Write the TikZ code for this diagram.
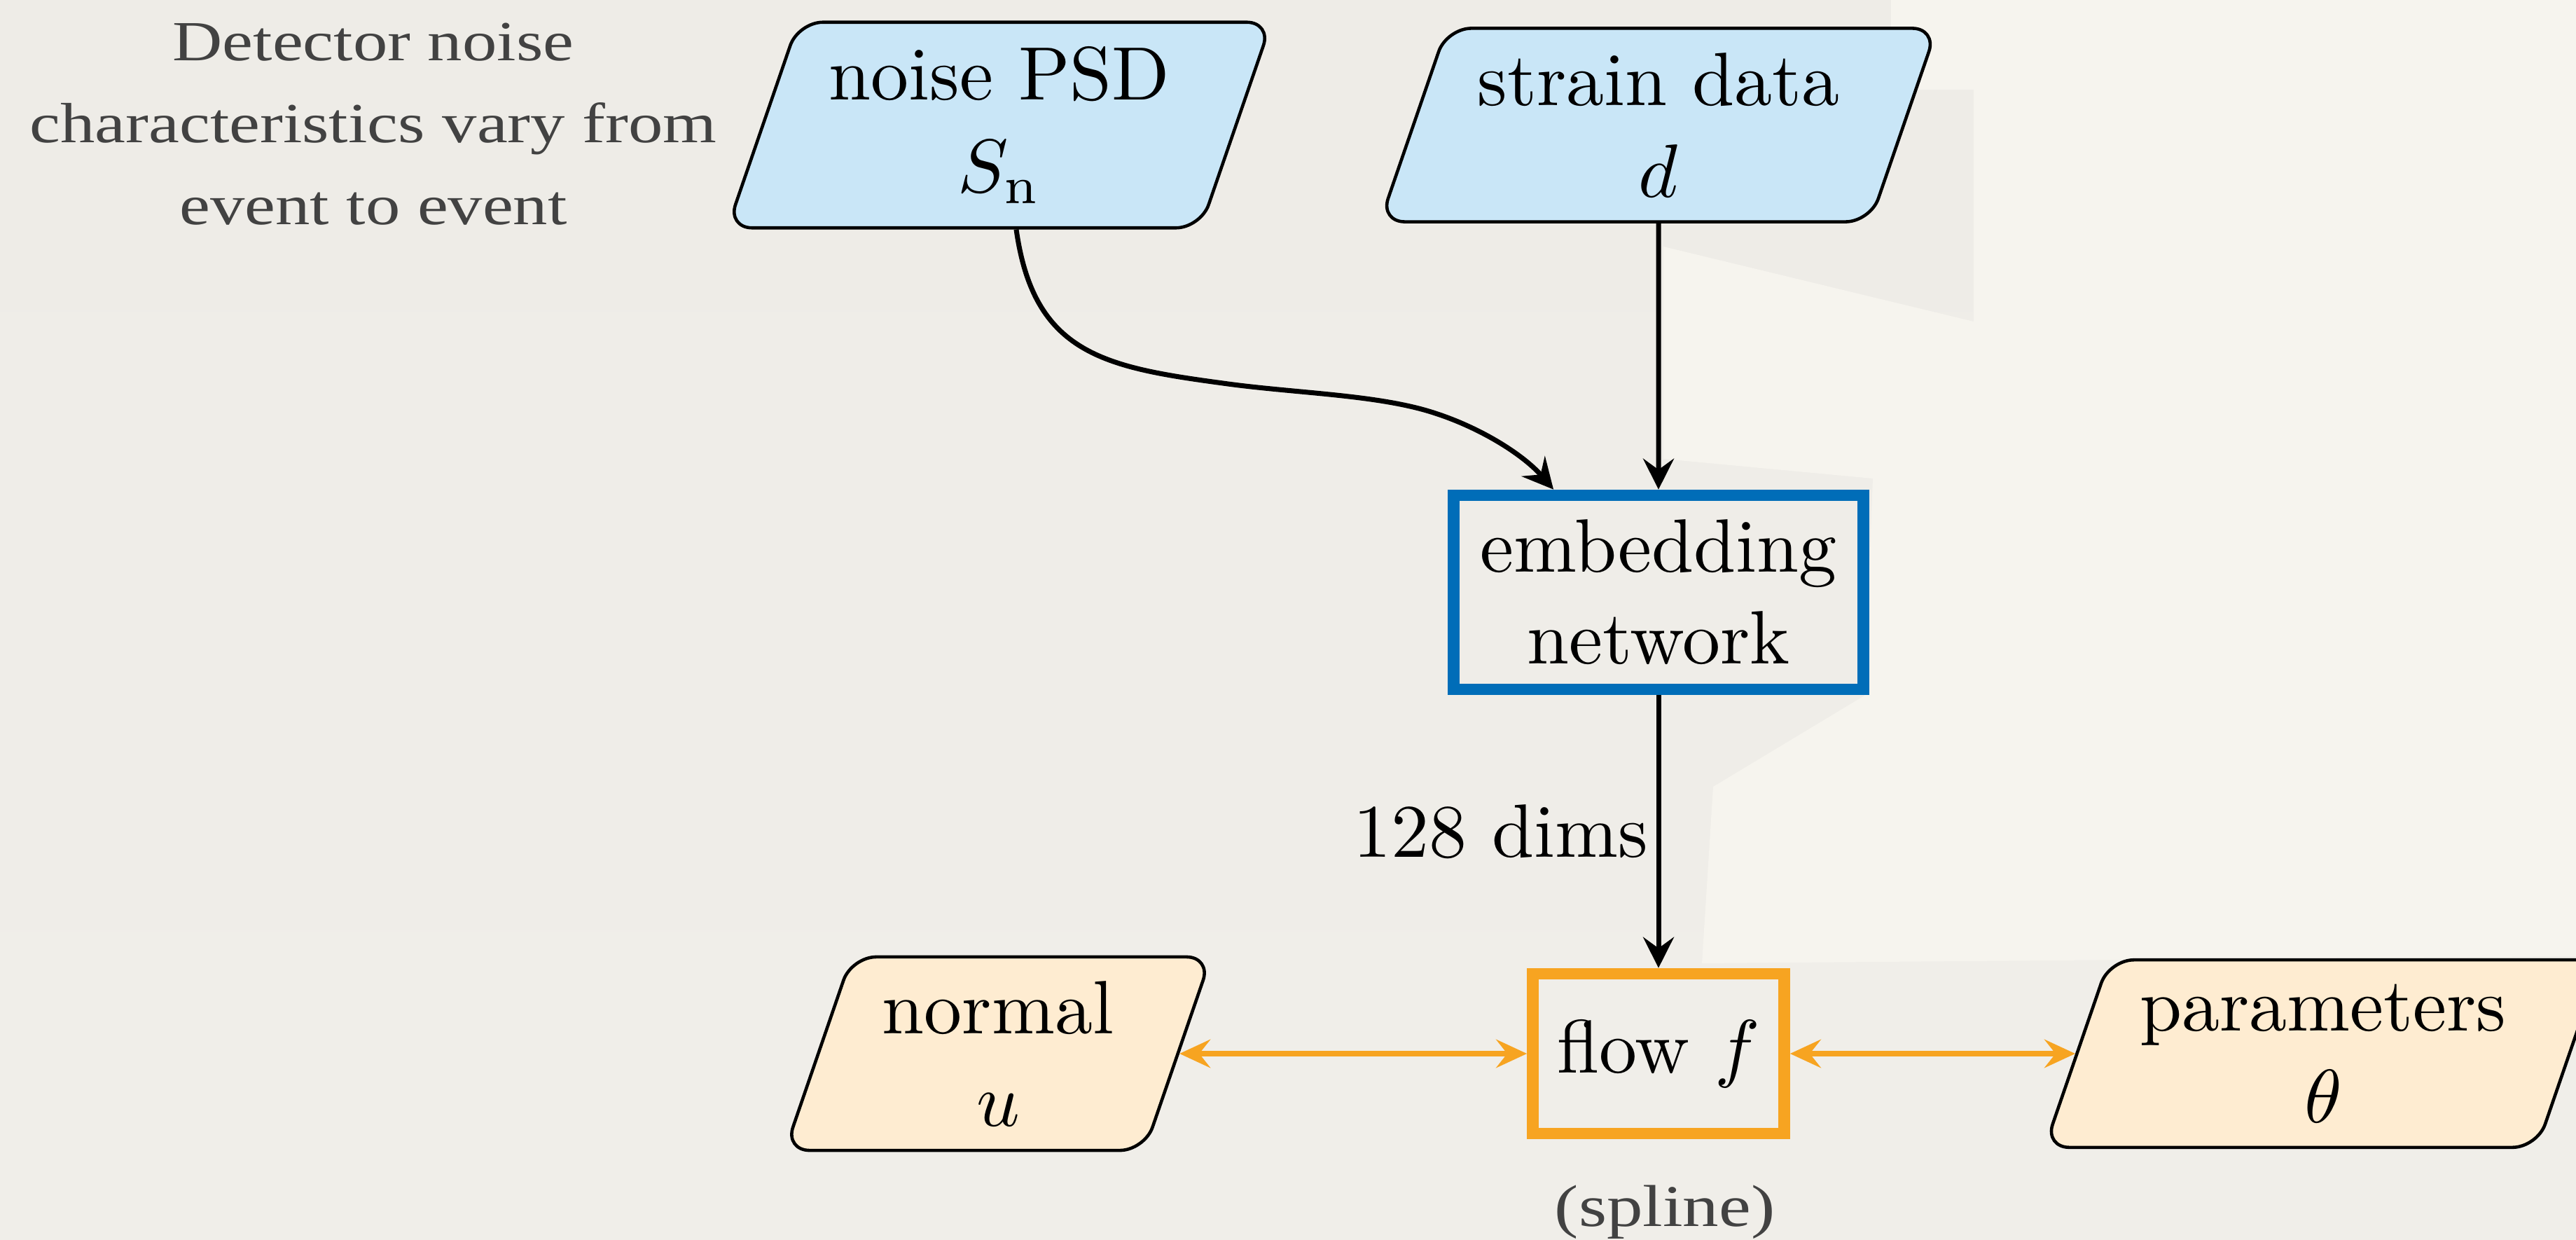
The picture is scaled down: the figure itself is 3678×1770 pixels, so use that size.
\RequirePackage{fix-cm}
\documentclass[tikz,border=0pt]{standalone}
\usepackage{fontspec}
\newfontfamily\capfont[FakeStretch=1.22]{Liberation Serif}
\usetikzlibrary{shapes.geometric,arrows.meta,calc}
\definecolor{bgtop}{HTML}{EEECE7}
\definecolor{bgmid}{HTML}{E8E6E1}
\definecolor{bgbot}{HTML}{F0EEE9}
\definecolor{bglight}{HTML}{F6F4EE}
\definecolor{inblue}{HTML}{C9E6F7}
\definecolor{inorange}{HTML}{FEECD1}
\definecolor{netblue}{HTML}{006DB8}
\definecolor{floworange}{HTML}{F7A421}
\definecolor{captiongray}{HTML}{424242}
\newcommand{\bigt}[1]{\scalebox{3.07}{\fontsize{10}{12}\selectfont #1}}
\begin{document}
\begin{tikzpicture}[x=0.01cm,y=-0.01cm,
  txt/.style={font=\fontsize{30.7}{37.3}\selectfont},
  databox/.style={txt, draw=black, line width=1.3pt, shape=trapezium,
    trapezium left angle=71, trapezium right angle=109, rounded corners=10pt,
    inner xsep=0.44cm, inner ysep=0.35cm, align=center},
  inbox/.style={databox, fill=inblue},
  outbox/.style={databox, fill=inorange},
  netbox/.style={txt, draw=#1, line width=4.7pt, inner sep=0pt, align=center},
  arr/.style={line width=2pt, -{Stealth[length=12.5pt,width=12.5pt,inset=4.5pt]}},
  biarr/.style={line width=2.2pt, draw=floworange,
    {Stealth[length=12.5pt,width=11.5pt,inset=4.5pt]}-{Stealth[length=12.5pt,width=11.5pt,inset=4.5pt]}},
  note/.style={text=captiongray, align=center, font=\capfont\fontsize{23}{33.3}\selectfont}
]
\useasboundingbox (0,0) rectangle (3678,1770);
\clip (0,0) rectangle (3678,1770);
% paper background
\shade[top color=bgtop, middle color=bgmid, bottom color=bgbot] (0,0) rectangle (3678,1770);
\fill[bglight] (2700,0) -- (3678,0) -- (3678,1365) -- (2430,1375) -- (2446,1123)
  -- (2662,993) -- (2674,683) -- (2375,655) -- (2375,352) -- (2818,459)
  -- (2818,128) -- (2700,128) -- cycle;

% caption
\node[note] (caption) at (533,177) {Detector noise\\characteristics vary from\\event to event};

% nodes
\node[inbox] (psd) at (1427,178.5) {\bigt{noise PSD}\\\bigt{$S_\mathrm{n}$}};
\node[inbox] (strain) at (2368,178.5) {\bigt{strain data}\\\bigt{$d$}};
\node[netbox=netblue, minimum width=5.85cm, minimum height=2.77cm] (emb) at (2368,845.5) {\bigt{embedding}\\\bigt{network}};
\node[netbox=floworange, minimum width=3.59cm, minimum height=2.28cm] (flow) at (2368,1504) {\bigt{flow $f$}};
\node[outbox] (normal) at (1425,1504) {\bigt{normal}\\\bigt{$u$}};
\node[outbox] (params) at (3317,1504) {\bigt{parameters}\\\bigt{$\theta$}};
\node[note, anchor=base, font=\capfont\fontsize{24}{30}\selectfont] (spline) at (2377,1750) {(spline)};

% connectors
\draw[arr] (strain) -- (emb);
\draw[arr] (emb) -- node[txt, left] (dims) {\bigt{128 dims}} (flow);
\coordinate (c0) at ($(psd.south -| psd.center)+(24,0)$);
\coordinate (c1) at ($(emb.north west)+(151,0)$);
\draw[arr] (c0) .. controls (1476,505) and (1576,524) .. (1746,547)
  .. controls (1846,561) and (1960,563) .. (2040,587)
  .. controls (2110,608) and (2174,648) .. (c1);
\draw[biarr] (normal) -- (flow);
\draw[biarr] (flow) -- (params);
\end{tikzpicture}
\end{document}
